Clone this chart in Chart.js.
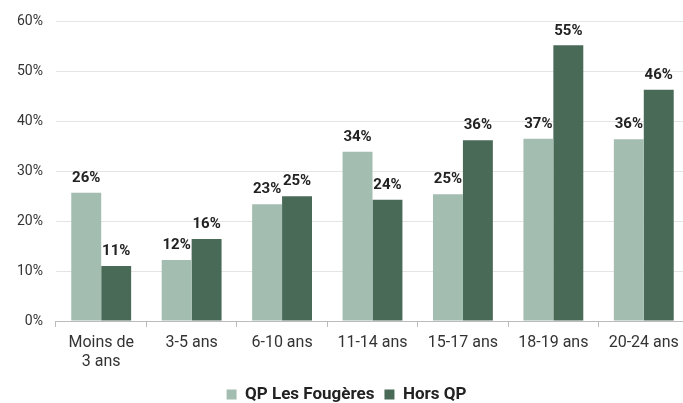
<!DOCTYPE html>
<html>
<head>
<meta charset="utf-8">
<script src="https://cdn.jsdelivr.net/npm/chart.js@4"></script>
<style>
    html, body { margin: 0; padding: 0; background: #fff; overflow: hidden; }
    #wrap { width: 689px; height: 403px; position: relative; }
</style>
</head>
<body>
<div id="wrap"><canvas id="age-chart"></canvas></div>
<script>
// Tranches d'âge et parts (%)
const categories = [['Moins de', '3 ans'], '3-5 ans', '6-10 ans', '11-14 ans', '15-17 ans', '18-19 ans', '20-24 ans'];
const qpFougeres = [25.7, 12.2, 23.4, 33.9, 25.4, 36.5, 36.4];
const horsQp = [11.0, 16.4, 25.0, 24.3, 36.2, 55.2, 46.3];
const yTicks = [0, 10, 20, 30, 40, 50, 60];

const lightGreen = '#a3bdb0';
const darkGreen = '#4a6a58';

// Small plugin to write the value above each bar
const barLabels = {
    id: 'barLabels',
    afterDatasetsDraw(chart) {
        const ctx = chart.ctx;
        ctx.save();
        ctx.font = 'bold 15px Roboto, sans-serif';
        ctx.fillStyle = '#222';
        ctx.textAlign = 'center';
        ctx.textBaseline = 'bottom';
        chart.data.datasets.forEach((ds, i) => {
            chart.getDatasetMeta(i).data.forEach((bar, j) => {
                ctx.fillText(Math.round(ds.data[j]) + '%', bar.x, bar.y - 7);
            });
        });
        ctx.restore();
    }
};

new Chart(document.getElementById('age-chart'), {
    type: 'bar',
    data: {
        labels: categories,
        datasets: [
            {
                label: 'QP Les Fougères',
                data: qpFougeres,
                backgroundColor: lightGreen,
                barPercentage: 1,
                categoryPercentage: 0.662
            },
            {
                label: 'Hors QP',
                data: horsQp,
                backgroundColor: darkGreen,
                barPercentage: 1,
                categoryPercentage: 0.662
            }
        ]
    },
    options: {
        responsive: true,
        maintainAspectRatio: false,
        animation: false,
        layout: { padding: { top: 13, left: 4, right: 0, bottom: -10 } },
        scales: {
            x: {
                afterFit: scale => { scale.height = 55; },
                grid: {
                    drawOnChartArea: false,
                    drawTicks: true,
                    tickLength: 6,
                    color: '#bbbbbb',
                    offset: true
                },
                border: { display: true, color: '#bbbbbb' },
                ticks: {
                    color: '#333',
                    font: { family: 'Roboto, sans-serif', size: 16 },
                    maxRotation: 0,
                    autoSkip: false,
                    padding: 6
                }
            },
            y: {
                min: 0,
                max: 60,
                afterBuildTicks: axis => { axis.ticks = yTicks.map(v => ({ value: v })); },
                grid: { color: '#e4e4e4', drawTicks: false },
                border: { display: false },
                ticks: {
                    color: '#333',
                    font: { family: 'Roboto, sans-serif', size: 14 },
                    padding: 13,
                    callback: v => v + '%'
                }
            }
        },
        plugins: {
            legend: {
                position: 'bottom',
                labels: {
                    boxWidth: 10,
                    boxHeight: 10,
                    padding: 10,
                    color: '#222',
                    font: { family: 'Roboto, sans-serif', size: 17, weight: 'bold' }
                }
            },
            tooltip: { enabled: false }
        }
    },
    plugins: [barLabels]
});
</script>
</body>
</html>
